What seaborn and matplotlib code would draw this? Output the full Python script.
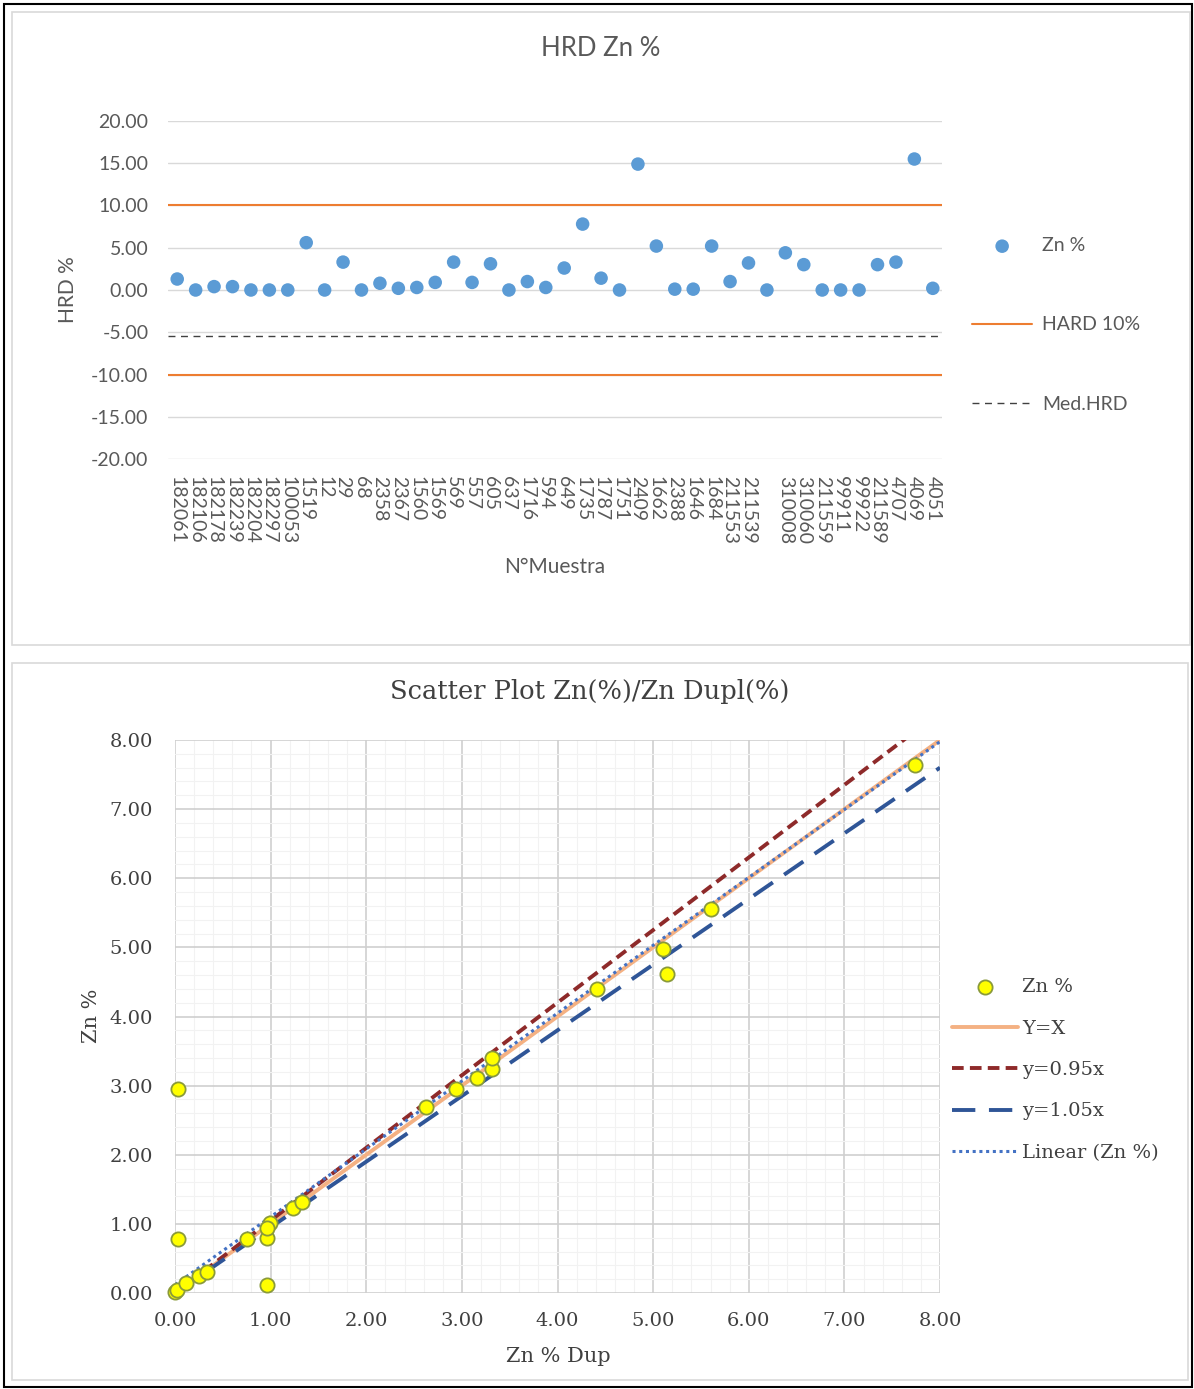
import numpy as np
import pandas as pd
import matplotlib
matplotlib.use("Agg")
import matplotlib.pyplot as plt
import seaborn as sns
from matplotlib.patches import Rectangle
from matplotlib.ticker import FormatStrFormatter, MultipleLocator

# ---------------- data ----------------
sample_ids = ["182061", "182106", "182178", "182239", "182204", "182297", "100053",
              "1519", "12", "29", "68", "2358", "2367", "1560", "1569", "569", "557",
              "605", "637", "1716", "594", "649", "1735", "1787", "1751", "2409",
              "1662", "2388", "1646", "1684", "211553", "211539", "", "310008",
              "310060", "211559", "99911", "99922", "211589", "4707", "4069", "4051"]
hrd_zn = [1.3, 0.0, 0.4, 0.4, 0.0, 0.0, 0.0, 5.6, 0.0, 3.3, 0.0, 0.8, 0.2, 0.3,
          0.9, 3.3, 0.9, 3.1, 0.0, 1.0, 0.3, 2.6, 7.8, 1.4, 0.0, 14.9, 5.2, 0.1,
          0.1, 5.2, 1.0, 3.2, 0.0, 4.4, 3.0, 0.0, 0.0, 0.0, 3.0, 3.3, 15.5, 0.2]
hard_limit = [10.0, -10.0]
med_hrd = -5.5

zn_dup = [0.03, 0.03, 0.96, 0.00, 0.02, 0.12, 0.25, 0.33, 0.75, 0.96, 0.99, 0.96,
          1.23, 1.33, 2.63, 2.94, 3.16, 3.31, 3.31, 4.41, 5.10, 5.14, 5.60, 7.74]
zn_orig = [2.95, 0.78, 0.12, 0.02, 0.05, 0.15, 0.25, 0.30, 0.78, 0.80, 1.01, 0.94,
           1.23, 1.32, 2.69, 2.95, 3.11, 3.24, 3.40, 4.40, 4.98, 4.62, 5.56, 7.64]
ref_slopes = [1.0, 1.05, 0.95]
ref_labels = ["Y=X", "y=0.95x", "y=1.05x"]
trend_slope = 0.982
trend_intercept = 0.12
line_x = [0.0, 8.0]

# ---------------- figure ----------------
W, H = 1194, 1389
sns.set_theme(style="white")
plt.rcParams["font.family"] = ["Lato", "DejaVu Sans"]

fig = plt.figure(figsize=(W / 100, H / 100), dpi=100)
fig.patch.set_facecolor("white")

def box(x0, y0, x1, y1, ec, lw):
    fig.patches.append(Rectangle((x0 / W, 1 - y1 / H), (x1 - x0) / W, (y1 - y0) / H,
                                 transform=fig.transFigure, fill=False, ec=ec, lw=lw))

box(4, 4, 1192, 1387, "black", 1.5)
box(12, 12, 1190, 645, "#D9D9D9", 1.2)
box(12, 663, 1188, 1380, "#D9D9D9", 1.2)

# ---------------- top chart ----------------
txt1 = "#595959"
ax1 = fig.add_axes([168 / W, 1 - 459 / H, 774 / W, 338 / H])
df1 = pd.DataFrame({"idx": np.arange(len(hrd_zn)), "hrd": hrd_zn})
for i, v in enumerate(hard_limit):
    ax1.axhline(v, color="#ED7D31", lw=1.5, zorder=2,
                label="HARD 10%" if i == 0 else "_nolegend_")
ax1.axhline(med_hrd, color="#404040", lw=1.0, ls=(0, (5, 4)), zorder=2, label="Med.HRD")
sns.scatterplot(data=df1, x="idx", y="hrd", ax=ax1, color="#5B9BD5", s=95,
                edgecolor="none", label="Zn %", zorder=3)
ax1.set_xlim(-0.5, len(hrd_zn) - 0.5)
ax1.set_ylim(-20, 20)
ax1.set_yticks(np.arange(-20, 21, 5))
ax1.yaxis.set_major_formatter(FormatStrFormatter("%.2f"))
ax1.set_xticks(np.arange(len(sample_ids)))
ax1.set_xticklabels(sample_ids, rotation=270, va="top", ha="center")
ax1.tick_params(axis="both", length=0, labelsize=14, labelcolor=txt1)
ax1.tick_params(axis="y", pad=14)
ax1.tick_params(axis="x", pad=12)
ax1.grid(axis="y", color="#D9D9D9", lw=1.0, zorder=0)
ax1.grid(axis="x", visible=False)
for s in ax1.spines.values():
    s.set_visible(False)
ax1.set_xlabel("N°Muestra", fontsize=15, color=txt1)
ax1.xaxis.set_label_coords((555 - 168) / 774, (459 - 567) / 338)
ax1.xaxis.label.set_va("center")
ax1.set_ylabel("HRD %", fontsize=15, color=txt1)
ax1.yaxis.set_label_coords((68 - 168) / 774, 0.5)
ax1.yaxis.label.set_va("center")
ax1.set_title("HRD Zn %", fontsize=18.5, color=txt1, x=(601 - 168) / 774,
              y=(459 - 48) / 338, pad=0)
ax1.title.set_va("center")

h, l = ax1.get_legend_handles_labels()
order = [l.index("Zn %"), l.index("HARD 10%"), l.index("Med.HRD")]
ax1.legend([h[i] for i in order], [l[i] for i in order], loc="center left",
           bbox_to_anchor=((972 - 168) / 774, (459 - 325) / 338), frameon=False,
           fontsize=14, labelcolor=txt1, handlelength=3.1, handletextpad=0.5,
           labelspacing=3.2, borderpad=0, borderaxespad=0)

# ---------------- bottom chart ----------------
serif = ["DejaVu Serif"]
txt2 = "#404040"
ax2 = fig.add_axes([175 / W, 1 - 1293 / H, 765 / W, 553 / H])
df2 = pd.DataFrame({"dup": zn_dup, "zn": zn_orig})
line_styles = [dict(color="#F4B183", lw=2.8, ls="-"),
               dict(color="#8E2A2A", lw=2.8, ls=(0, (3, 1.6))),
               dict(color="#2F5597", lw=2.8, ls=(0, (6, 3.5)))]
for slope, lab, st in zip(ref_slopes, ref_labels, line_styles):
    ldf = pd.DataFrame({"x": line_x, "y": [slope * x for x in line_x]})
    sns.lineplot(data=ldf, x="x", y="y", ax=ax2, label=lab, zorder=2, **st)
tdf = pd.DataFrame({"x": line_x, "y": [trend_slope * x + trend_intercept for x in line_x]})
sns.lineplot(data=tdf, x="x", y="y", ax=ax2, label="Linear (Zn %)", color="#4472C4",
             lw=2.2, ls=(0, (1, 1.2)), zorder=2)
sns.scatterplot(data=df2, x="dup", y="zn", ax=ax2, color="#FFFF00", s=105,
                edgecolor="#8A9A3A", linewidth=1.3, label="Zn %", zorder=4,
                clip_on=False)
ax2.set_xlim(0, 8)
ax2.set_ylim(0, 8)
ax2.xaxis.set_major_locator(MultipleLocator(1))
ax2.yaxis.set_major_locator(MultipleLocator(1))
ax2.xaxis.set_minor_locator(MultipleLocator(0.2))
ax2.yaxis.set_minor_locator(MultipleLocator(0.2))
ax2.xaxis.set_major_formatter(FormatStrFormatter("%.2f"))
ax2.yaxis.set_major_formatter(FormatStrFormatter("%.2f"))
ax2.grid(which="major", color="#CFCFCF", lw=1.2, zorder=0)
ax2.grid(which="minor", color="#F2F2F2", lw=0.8, zorder=0)
ax2.set_axisbelow(True)
ax2.tick_params(which="both", length=0)
ax2.tick_params(axis="both", labelsize=14, labelcolor=txt2)
ax2.tick_params(axis="y", pad=16)
ax2.tick_params(axis="x", pad=14)
for t in ax2.get_xticklabels() + ax2.get_yticklabels():
    t.set_family(serif)
for s in ax2.spines.values():
    s.set_visible(False)
ax2.set_xlabel("Zn % Dup", fontsize=15, color=txt2, family=serif)
ax2.xaxis.set_label_coords((558 - 175) / 765, (1293 - 1357) / 553)
ax2.xaxis.label.set_va("center")
ax2.set_ylabel("Zn %", fontsize=15, color=txt2, family=serif)
ax2.yaxis.set_label_coords((92 - 175) / 765, (1293 - 1016) / 553)
ax2.yaxis.label.set_va("center")
ax2.set_title("Scatter Plot Zn(%)/Zn Dupl(%)", fontsize=18.5, color=txt2, family=serif,
              x=(590 - 175) / 765, y=(1293 - 692) / 553, pad=0)
ax2.title.set_va("center")

h, l = ax2.get_legend_handles_labels()
want = ["Zn %", "Y=X", "y=0.95x", "y=1.05x", "Linear (Zn %)"]
hs = [h[l.index(w)] for w in want]
ax2.legend(hs, want, loc="center left",
           bbox_to_anchor=((952 - 175) / 765, (1293 - 1070) / 553), frameon=False,
           prop={"family": serif, "size": 14}, labelcolor=txt2, handlelength=3.4,
           handletextpad=0.2, labelspacing=1.2, borderpad=0, borderaxespad=0)

fig.savefig("out.png", dpi=100, facecolor="white")
